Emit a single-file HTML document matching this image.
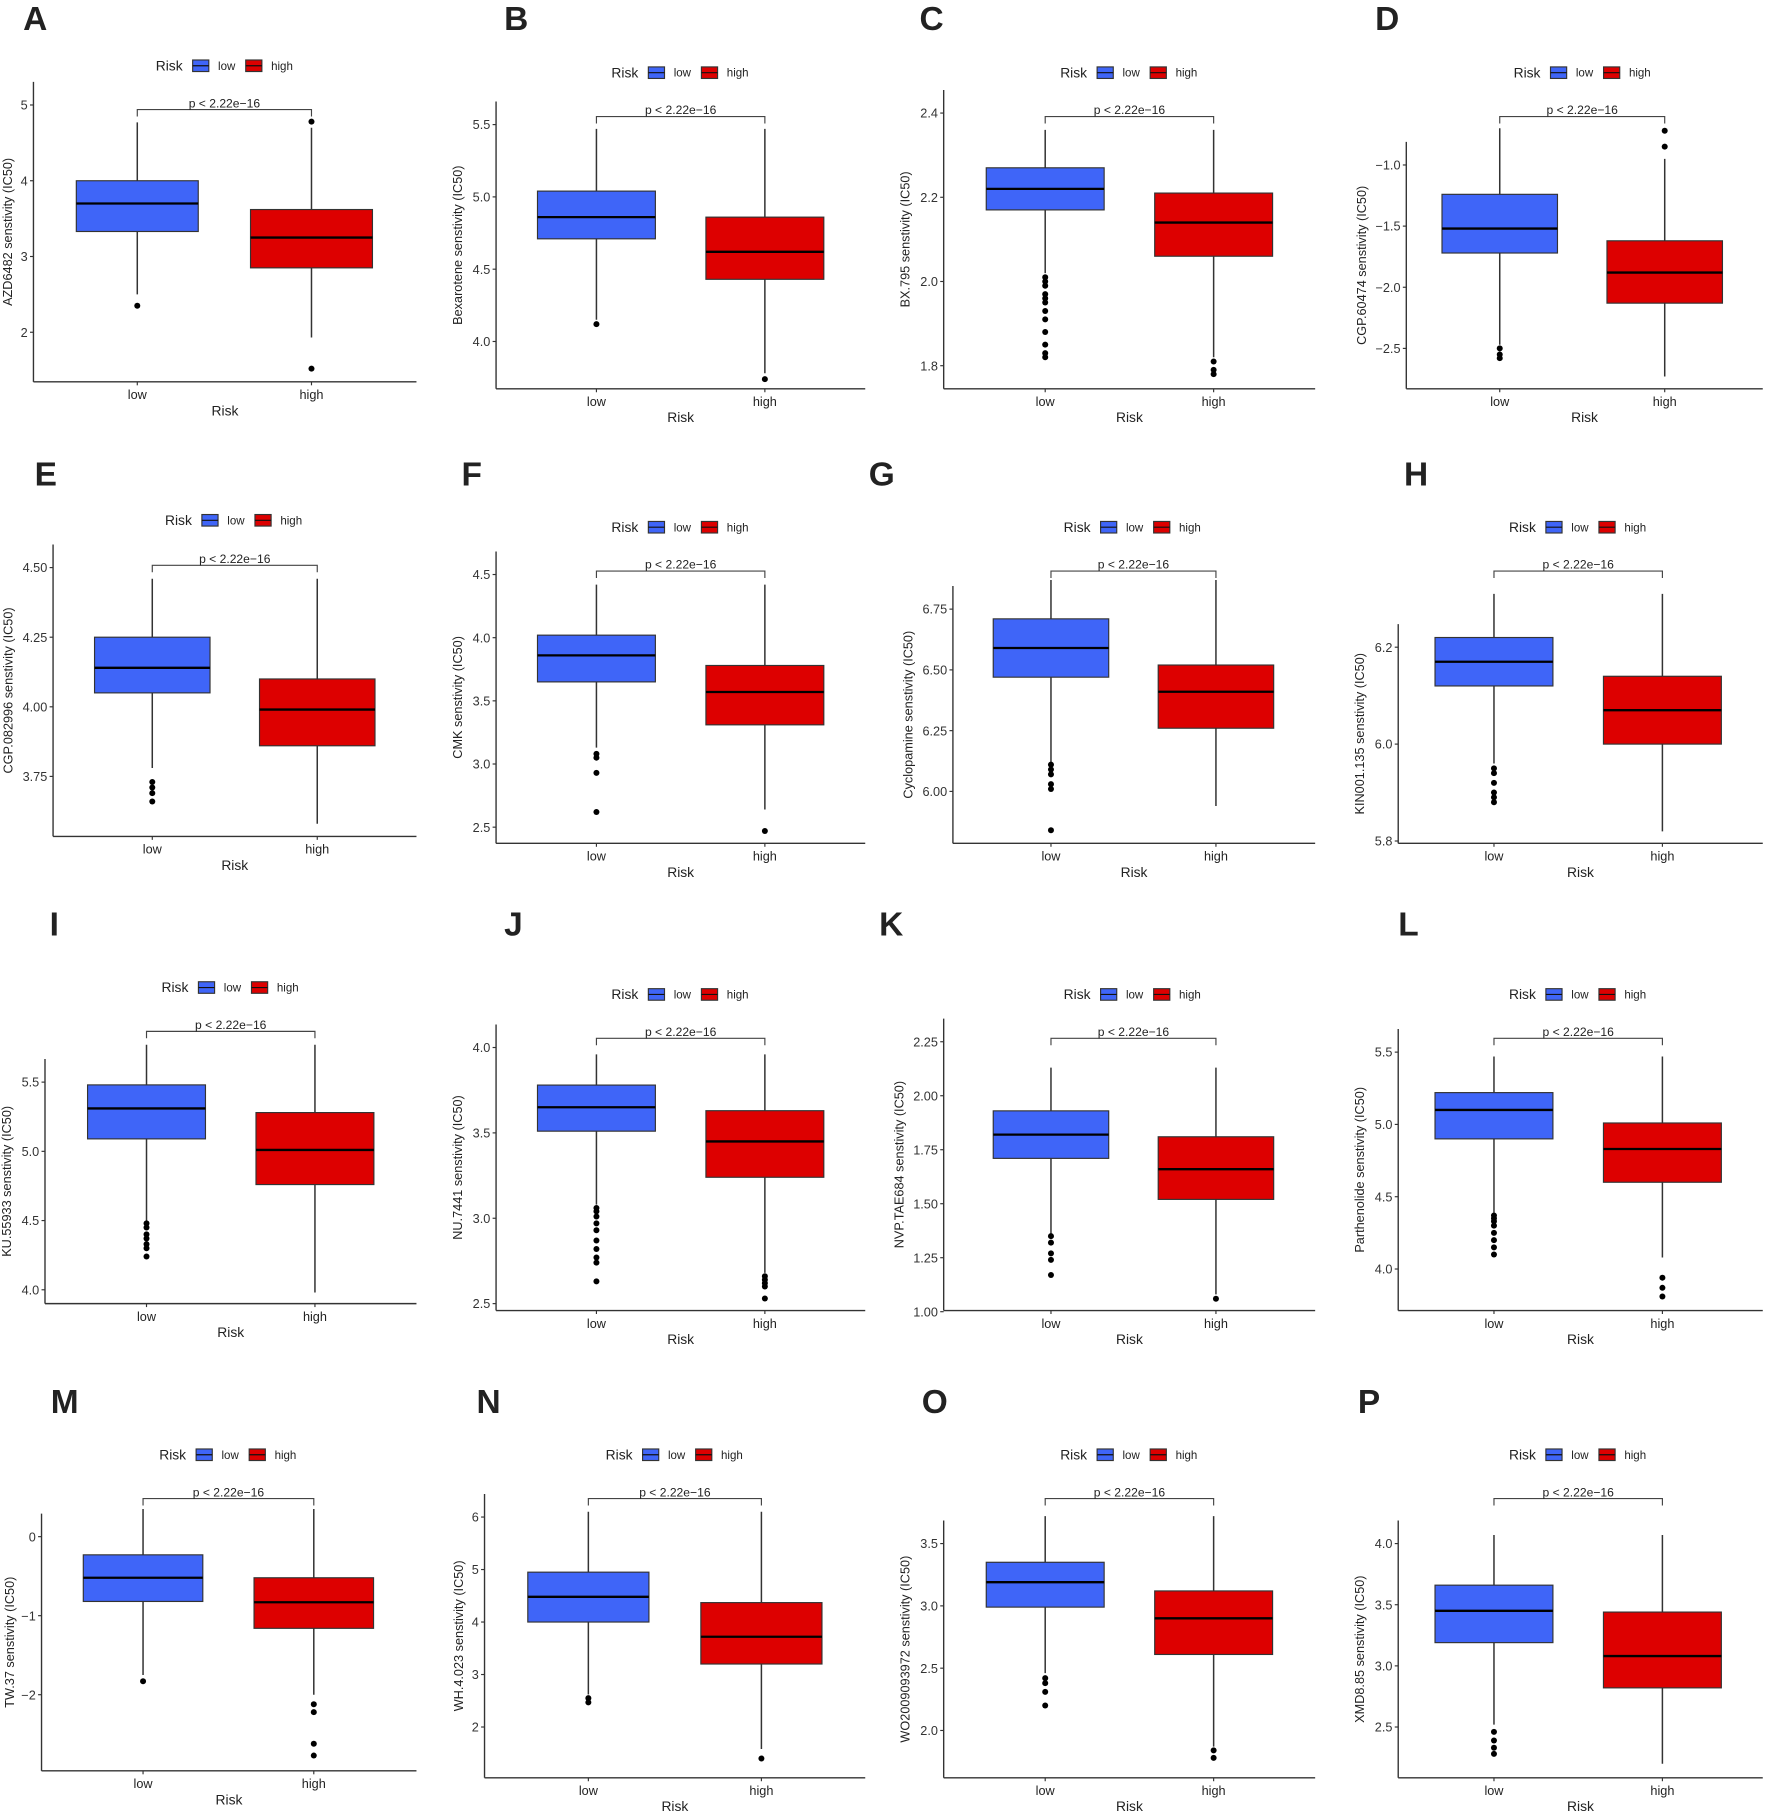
<!DOCTYPE html>
<html><head><meta charset="utf-8"><style>html,body{margin:0;padding:0;background:#fff}svg{display:block}text{font-family:"Liberation Sans",Arial,sans-serif}</style></head>
<body>
<svg id="fig" xmlns="http://www.w3.org/2000/svg" width="1772" height="1814" viewBox="0 0 1536 1572.4"></svg>
<script>
// Panel data
const panelLetters = ["A","B","C","D","E","F","G","H","I","J","K","L","M","N","O","P"];
const yLabels = ["AZD6482 senstivity (IC50)","Bexarotene senstivity (IC50)","BX.795 senstivity (IC50)","CGP.60474 senstivity (IC50)","CGP.082996 senstivity (IC50)","CMK senstivity (IC50)","Cyclopamine senstivity (IC50)","KIN001.135 senstivity (IC50)","KU.55933 senstivity (IC50)","NU.7441 senstivity (IC50)","NVP.TAE684 senstivity (IC50)","Parthenolide senstivity (IC50)","TW.37 senstivity (IC50)","WH.4.023 senstivity (IC50)","WO2009093972 senstivity (IC50)","XMD8.85 senstivity (IC50)"];
const tickValues = [[5,4,3,2],[5.5,5,4.5,4],[2.4,2.2,2.0,1.8],[-1,-1.5,-2,-2.5],[4.5,4.25,4,3.75],[4.5,4,3.5,3,2.5],[6.75,6.5,6.25,6],[6.2,6.0,5.8],[5.5,5,4.5,4],[4,3.5,3,2.5],[2.25,2,1.75,1.5,1.25,1],[5.5,5,4.5,4],[0,-1,-2],[6,5,4,3,2],[3.5,3,2.5,2],[4,3.5,3,2.5]];
const tickLabels = [["5","4","3","2"],["5.5","5.0","4.5","4.0"],["2.4","2.2","2.0","1.8"],["\u22121.0","\u22121.5","\u22122.0","\u22122.5"],["4.50","4.25","4.00","3.75"],["4.5","4.0","3.5","3.0","2.5"],["6.75","6.50","6.25","6.00"],["6.2","6.0","5.8"],["5.5","5.0","4.5","4.0"],["4.0","3.5","3.0","2.5"],["2.25","2.00","1.75","1.50","1.25","1.00"],["5.5","5.0","4.5","4.0"],["0","\u22121","\u22122"],["6","5","4","3","2"],["3.5","3.0","2.5","2.0"],["4.0","3.5","3.0","2.5"]];
// [whiskerLow, q1, median, q3, whiskerHigh]
const lowStats = [[2.5,3.33,3.7,4.0,4.77],[4.15,4.71,4.86,5.04,5.47],[2.02,2.17,2.22,2.27,2.36],[-2.47,-1.72,-1.52,-1.24,-0.7],[3.78,4.05,4.14,4.25,4.46],[3.13,3.65,3.86,4.02,4.42],[6.12,6.47,6.59,6.71,6.87],[5.96,6.12,6.17,6.22,6.31],[4.5,5.09,5.31,5.48,5.77],[3.08,3.51,3.65,3.78,3.96],[1.36,1.71,1.82,1.93,2.13],[4.39,4.9,5.1,5.22,5.47],[-1.75,-0.82,-0.52,-0.23,0.35],[2.62,4.0,4.48,4.95,6.1],[2.46,2.99,3.19,3.35,3.72],[2.52,3.19,3.45,3.66,4.07]];
const highStats = [[1.93,2.85,3.25,3.62,4.7],[3.78,4.43,4.62,4.86,5.47],[1.82,2.06,2.14,2.21,2.36],[-2.73,-2.13,-1.88,-1.62,-0.95],[3.58,3.86,3.99,4.10,4.46],[2.64,3.31,3.57,3.78,4.42],[5.94,6.26,6.41,6.52,6.87],[5.82,6.0,6.07,6.14,6.31],[3.98,4.76,5.01,5.28,5.77],[2.68,3.24,3.45,3.63,3.96],[1.08,1.52,1.66,1.81,2.13],[4.08,4.6,4.83,5.01,5.47],[-2.0,-1.16,-0.83,-0.52,0.35],[1.58,3.2,3.72,4.37,6.1],[1.87,2.61,2.9,3.12,3.72],[2.2,2.82,3.08,3.44,4.07]];
const lowOutliers = [[2.35],[4.12],[2.01,2.0,1.99,1.97,1.96,1.95,1.93,1.91,1.88,1.85,1.83,1.82],[-2.5,-2.55,-2.58],[3.73,3.71,3.69,3.66],[3.08,3.05,2.93,2.62],[6.11,6.09,6.07,6.03,6.01,5.84],[5.95,5.94,5.92,5.9,5.89,5.88],[4.48,4.45,4.4,4.37,4.33,4.3,4.24],[3.06,3.04,3.01,2.97,2.93,2.87,2.82,2.77,2.74,2.63],[1.35,1.32,1.27,1.24,1.17],[4.37,4.35,4.33,4.3,4.25,4.2,4.15,4.1],[-1.83],[2.55,2.47],[2.42,2.38,2.31,2.2],[2.46,2.39,2.33,2.28]];
const highOutliers = [[4.78,1.52],[3.74],[1.81,1.79,1.78],[-0.72,-0.85],[],[2.47],[],[],[],[2.66,2.64,2.62,2.6,2.53],[1.06],[3.94,3.87,3.81],[-2.12,-2.22,-2.62,-2.77],[1.4],[1.84,1.78],[]];
const categories = ["low","high"];
const pLabel = "p < 2.22e\u221216";

// layout (view coords): [axisLeft, axisBottom, axisRight, lowX, highX, letterX, letterY, legendX, legendY, bracketY]
const layout = [
 [29,331,361,119,270,20,15,135,57,95],[430,337,750,517,663,437,15,530,63,101],[818,337,1140,906,1052,797,15,919,63,101],[1219,337,1528,1300,1443,1192,15,1312,63,101],
 [46,725,361,132,275,30,410,143,451,490],[430,731,750,517,663,400,410,530,457,495],[826,731,1140,911,1054,753,410,922,457,495],[1212,731,1528,1295,1441,1217,410,1308,457,495],
 [39,1130,361,127,273,43,800,140,856,894],[430,1136,750,517,663,437,800,530,862,900],[818,1136,1140,911,1054,762,800,922,862,900],[1212,1136,1528,1295,1441,1212,800,1308,862,900],
 [36,1535,361,124,272,44,1214,138,1261,1299],[420,1541,750,510,660,413,1214,525,1261,1299],[818,1541,1140,906,1052,799,1214,919,1261,1299],[1212,1541,1528,1295,1441,1177,1214,1308,1261,1299]];
// tick pixel anchors: first and last tick screen y
const tickY = [[91,288],[108,296],[98,317],[143,302],[492,673],[498,717],[528,686],[561,729],[938,1118],[908,1130],[903,1137],[912,1100],[1332,1469],[1315,1497],[1338,1500],[1338,1497]];

const NS="http://www.w3.org/2000/svg";
const svg=document.getElementById('fig');
function mk(tag,attrs,parent,txt){const e=document.createElementNS(NS,tag);for(const k in attrs)e.setAttribute(k,attrs[k]);if(txt!==undefined)e.textContent=txt;parent.appendChild(e);return e;}

panelLetters.forEach((L,i)=>{
  const [ax,ab,ar,lx,hx,ltx,lty,lgx,lgy,bry]=layout[i];
  const tv=tickValues[i];
  const v0=tv[0],v1=tv[tv.length-1],y0=tickY[i][0],y1=tickY[i][1];
  const Y=v=>y0+(v-v0)*(y1-y0)/(v1-v0);
  const g=mk('g',{},svg);
  
  
  const lt=mk('text',{x:ltx,y:lty+11,'font-size':29,'font-weight':'bold',fill:'#222'},g,L);
   
  const lg=mk('g',{},g);
   
  mk('text',{x:lgx,y:lgy+4,'font-size':12,fill:'#222'},lg,'Risk');
  [['#3f65f8','low',lgx+32],['#dd0000','high',lgx+78]].forEach(([c,t,x])=>{
    const k=mk('rect',{x:x,y:lgy-5,width:14,height:10,fill:c,stroke:'#333','stroke-width':1},lg);
     
    mk('line',{x1:x,x2:x+14,y1:lgy,y2:lgy,stroke:'#111','stroke-width':1},lg);
    mk('text',{x:x+22,y:lgy+3.5,'font-size':10,fill:'#222'},lg,t);
  });
  const top=y0-20;
  const axl=mk('line',{x1:ax,x2:ax,y1:top,y2:ab,stroke:'#333','stroke-width':1.2},g);
   
  const axb=mk('line',{x1:ax,x2:ar,y1:ab,y2:ab,stroke:'#333','stroke-width':1.2},g);
   
  let maxLen=0;
  tv.forEach((v,j)=>{
    const y=Y(v);
    maxLen=Math.max(maxLen,String(tickLabels[i][j]).length);
    mk('line',{x1:ax-3,x2:ax,y1:y,y2:y,stroke:'#333','stroke-width':1},g);
    const t=mk('text',{x:ax-5,y:y+4,'font-size':11,'text-anchor':'end',fill:'#333'},g,tickLabels[i][j]);
     
  });
  const off=13+5.5*maxLen;
  const yl=mk('text',{x:0,y:0,'font-size':11,'text-anchor':'middle',fill:'#222',transform:`translate(${ax-off},${(top+ab)/2}) rotate(-90)`},g,yLabels[i]);
   
  const xt=mk('text',{x:(ax+ar)/2,y:ab+29,'font-size':12,'text-anchor':'middle',fill:'#222'},g,'Risk');
   
  const half=(hx-lx)*0.35;
  [[lx,lowStats[i],lowOutliers[i],'#3f65f8','low'],[hx,highStats[i],highOutliers[i],'#dd0000','high']].forEach(([cx,s,o,c,n])=>{
    mk('line',{x1:cx,x2:cx,y1:ab,y2:ab+3,stroke:'#333'},g);
    const xl=mk('text',{x:cx,y:ab+15,'font-size':11,'text-anchor':'middle',fill:'#222'},g,n);
     
    const bg=mk('g',{},g);
     
    mk('line',{x1:cx,x2:cx,y1:Y(s[0]),y2:Y(s[4]),stroke:'#333','stroke-width':1.3},bg);
    mk('rect',{x:cx-half,y:Y(s[3]),width:2*half,height:Y(s[1])-Y(s[3]),fill:c,stroke:'#333','stroke-width':1},bg);
    mk('line',{x1:cx-half,x2:cx+half,y1:Y(s[2]),y2:Y(s[2]),stroke:'#000','stroke-width':2},bg);
    o.forEach(v=>{
      const d=mk('circle',{cx:cx,cy:Y(v),r:2.6,fill:'#000'},bg);
       
    });
  });
  const br=mk('path',{d:`M${lx},${bry+6}V${bry}H${hx}V${bry+6}`,fill:'none',stroke:'#444','stroke-width':1},g);
   
  const pl=mk('text',{x:(lx+hx)/2,y:bry-2,'font-size':10.5,'text-anchor':'middle',fill:'#222'},g,pLabel);
   
});
</script>
</body></html>
